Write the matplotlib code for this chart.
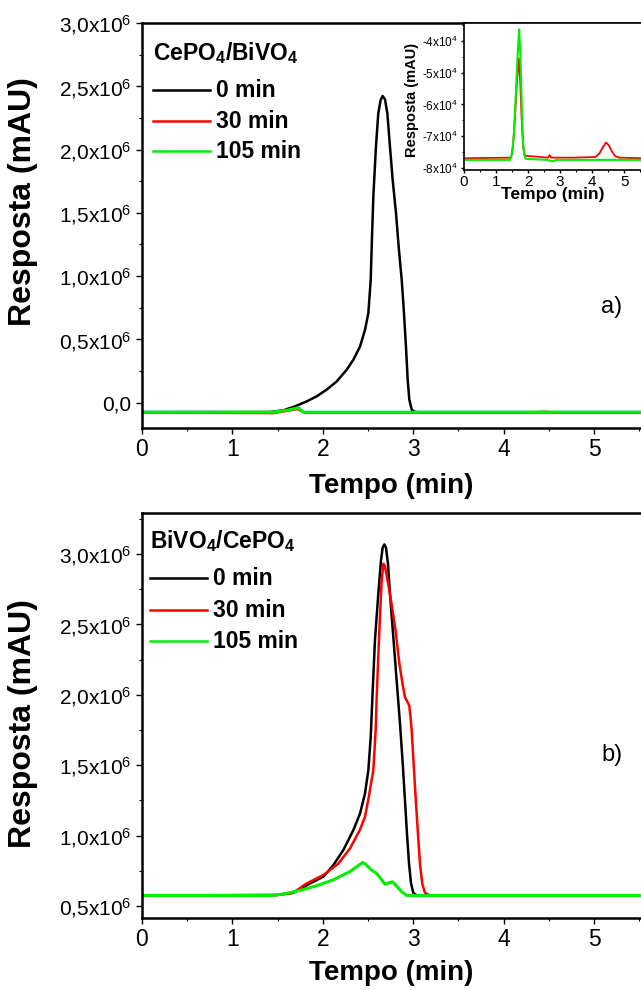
import numpy as np
import matplotlib.pyplot as plt
from matplotlib.ticker import MultipleLocator

plt.rcParams['font.family'] = ['Liberation Sans', 'DejaVu Sans']
plt.rcParams['mathtext.default'] = 'regular'

# --- data (main panels in units of 1e6, inset in units of 1e4) ---
labels = ['0 min', '30 min', '105 min']
colors = ['#000000', '#ff0000', '#00ee00']

# a) CePO4/BiVO4
a_x0 = [0, 1.416, 1.563, 1.674, 1.822, 1.932, 2.043, 2.154, 2.264, 2.338, 2.412, 2.467, 2.504,
        2.530, 2.541, 2.559, 2.588, 2.614, 2.640, 2.662, 2.688, 2.714, 2.743, 2.773, 2.810,
        2.839, 2.873, 2.898, 2.920, 2.939, 2.957, 2.984, 3.020, 3.075, 5.6]
a_y0 = [-0.074, -0.074, -0.060, -0.034, 0.010, 0.050, 0.103, 0.168, 0.260, 0.339, 0.444, 0.576,
        0.708, 0.971, 1.234, 1.628, 2.023, 2.287, 2.392, 2.423, 2.397, 2.287, 2.023, 1.760, 1.497,
        1.234, 0.971, 0.708, 0.444, 0.182, 0.024, -0.055, -0.074, -0.075, -0.075]
a_x30 = [0, 1.45, 1.60, 1.72, 1.80, 4.3, 4.45, 4.6, 5.6]
a_y30 = [-0.078, -0.082, -0.065, -0.05, -0.078, -0.078, -0.072, -0.078, -0.078]
a_x105 = [0, 1.45, 1.60, 1.73, 1.78, 5.6]
a_y105 = [-0.075, -0.075, -0.06, -0.04, -0.075, -0.075]

# inset of a)
i_x30 = [0, 1.47, 1.53, 1.59, 1.65, 1.71, 1.75, 1.80, 1.85, 1.90, 2.62, 2.67, 2.72, 3.4, 4.10,
         4.22, 4.33, 4.43, 4.52, 4.62, 4.72, 4.85, 5.6]
i_y30 = [-7.70, -7.68, -7.3, -6.4, -5.3, -4.55, -5.2, -6.5, -7.4, -7.62, -7.68, -7.6, -7.68, -7.68,
         -7.66, -7.55, -7.35, -7.2, -7.3, -7.5, -7.64, -7.68, -7.70]
i_x105 = [0, 1.43, 1.50, 1.56, 1.62, 1.67, 1.72, 1.76, 1.80, 1.84, 1.88, 1.93, 2.6, 2.75, 2.9, 5.6]
i_y105 = [-7.75, -7.75, -7.55, -6.9, -5.6, -4.5, -3.63, -4.5, -6.0, -7.2, -7.6, -7.72, -7.75,
          -7.8, -7.75, -7.75]

# b) BiVO4/CePO4
b_x0 = [0, 1.49, 1.674, 1.858, 2.006, 2.116, 2.227, 2.338, 2.412, 2.467, 2.504, 2.530, 2.552,
        2.577, 2.614, 2.644, 2.662, 2.681, 2.699, 2.721, 2.743, 2.780, 2.817, 2.854, 2.884,
        2.909, 2.931, 2.954, 2.976, 3.001, 3.038, 3.112, 5.6]
b_y0 = [0.575, 0.578, 0.594, 0.66, 0.708, 0.79, 0.897, 1.039, 1.157, 1.299, 1.465, 1.70, 2.03,
        2.387, 2.718, 2.954, 3.044, 3.067, 3.044, 2.93, 2.718, 2.41, 2.10, 1.796, 1.512,
        1.252, 1.016, 0.80, 0.661, 0.594, 0.576, 0.575, 0.575]
b_x30 = [0, 1.49, 1.674, 1.82, 2.006, 2.17, 2.301, 2.41, 2.467, 2.51, 2.559, 2.585, 2.596, 2.625,
         2.651, 2.67, 2.688, 2.725, 2.762, 2.806, 2.847, 2.884, 2.91, 2.936, 2.957, 2.972,
         2.983, 3.005, 3.027, 3.05, 3.075, 3.10, 3.13, 3.186, 5.6]
b_y30 = [0.575, 0.578, 0.594, 0.66, 0.72, 0.80, 0.909, 1.04, 1.133, 1.28, 1.465, 1.75, 1.98, 2.45,
         2.81, 2.93, 2.913, 2.78, 2.64, 2.45, 2.22, 2.07, 1.98, 1.95, 1.92, 1.83,
         1.75, 1.51, 1.27, 1.04, 0.80, 0.66, 0.594, 0.575, 0.575]
b_x105 = [0, 1.43, 1.563, 1.748, 1.932, 2.116, 2.301, 2.441, 2.467, 2.54, 2.596, 2.64, 2.688,
          2.736, 2.773, 2.817, 2.873, 2.928, 5.6]
b_y105 = [0.575, 0.575, 0.585, 0.611, 0.644, 0.686, 0.745, 0.809, 0.80, 0.755, 0.731, 0.695,
          0.655, 0.665, 0.672, 0.641, 0.601, 0.575, 0.575]

a_yticks = [0, 0.5, 1.0, 1.5, 2.0, 2.5, 3.0]
a_yticklabels = ['0,0', '0,5x10$^6$', '1,0x10$^6$', '1,5x10$^6$', '2,0x10$^6$', '2,5x10$^6$', '3,0x10$^6$']
b_yticks = [0.5, 1.0, 1.5, 2.0, 2.5, 3.0]
b_yticklabels = ['0,5x10$^6$', '1,0x10$^6$', '1,5x10$^6$', '2,0x10$^6$', '2,5x10$^6$', '3,0x10$^6$']
i_yticks = [-8, -7, -6, -5, -4]
i_yticklabels = ['-8x10$^4$', '-7x10$^4$', '-6x10$^4$', '-5x10$^4$', '-4x10$^4$']

W, H = 641, 990
XMAX = 5.52

fig = plt.figure(figsize=(W / 100, H / 100), dpi=100)
ax1 = fig.add_axes([142 / W, 1 - 428 / H, (W - 142) / W, 405 / H])
ax2 = fig.add_axes([142 / W, 1 - 918 / H, (W - 142) / W, 405 / H])
axi = fig.add_axes([464 / W, 1 - 170 / H, (W - 464) / W, 147 / H])


def style(ax, lw, xsize, ysize, major_len, minor_len):
    ax.spines['right'].set_visible(False)
    for s in ['left', 'bottom', 'top']:
        ax.spines[s].set_linewidth(lw)
    ax.tick_params(which='major', direction='out', length=major_len, width=1.0,
                   right=False, top=False)
    ax.tick_params(which='minor', direction='out', length=minor_len, width=0.8,
                   right=False, top=False)
    ax.tick_params(axis='x', labelsize=xsize)
    ax.tick_params(axis='y', labelsize=ysize)
    ax.set_xlim(0, XMAX)
    ax.xaxis.set_major_locator(MultipleLocator(1))
    ax.xaxis.set_minor_locator(MultipleLocator(0.5))


# panel a
for x, y, c, lw in zip([a_x0, a_x30, a_x105], [a_y0, a_y30, a_y105], colors, [1.8, 1.8, 2.2]):
    ax1.plot(np.array(x), np.array(y) * 1e6, color=c, lw=lw)
ax1.set_ylim(-0.2e6, 3.0e6)
ax1.set_yticks(np.array(a_yticks) * 1e6)
ax1.set_yticklabels(a_yticklabels)
ax1.yaxis.set_minor_locator(MultipleLocator(0.25e6))
style(ax1, 1.8, 16.5, 15, 4, 2.5)

# panel b
for x, y, c, lw in zip([b_x0, b_x30, b_x105], [b_y0, b_y30, b_y105], colors, [1.8, 1.8, 2.2]):
    ax2.plot(np.array(x), np.array(y) * 1e6, color=c, lw=lw)
ax2.set_ylim(0.415e6, 3.29e6)
ax2.set_yticks(np.array(b_yticks) * 1e6)
ax2.set_yticklabels(b_yticklabels)
ax2.yaxis.set_minor_locator(MultipleLocator(0.25e6))
style(ax2, 1.8, 16.5, 15, 4, 2.5)

# labels, legends (drawn by hand), panel letters
panels = [(ax1, 'CePO$_4$/BiVO$_4$', 0.56, -0.111, 'a)', 307, 153, [60, 97, 128, 158]),
          (ax2, 'BiVO$_4$/CePO$_4$', 0.48, -0.104, 'b)', 755, 150, [548, 585, 617, 648])]
for ax, title, ycen, xly, txt, ty, lx, rows in panels:
    ax.set_xlabel('Tempo (min)', fontsize=20, fontweight='bold')
    ax.set_ylabel('Resposta (mAU)', fontsize=23, fontweight='bold')
    ax.yaxis.set_label_coords(-0.208, ycen)
    ax.xaxis.set_label_coords(0.5, xly)
    fig.text(lx / W, 1 - rows[0] / H, title, fontsize=16.5, fontweight='bold', va='baseline')
    for lab, c, yb in zip(labels, colors, rows[1:]):
        ym = 1 - (yb - 7) / H
        fig.lines.append(plt.Line2D([lx / W, (lx + 57) / W], [ym, ym], color=c, lw=1.8,
                                    transform=fig.transFigure))
        fig.text((lx + 63) / W, 1 - yb / H, lab, fontsize=16.5, fontweight='bold', va='baseline')
    fig.text(612 / W, 1 - ty / H, txt, fontsize=17, ha='center', va='center')

# inset
axi.plot(np.array(i_x30), np.array(i_y30) * 1e4, color=colors[1], lw=1.3)
axi.plot(np.array(i_x105), np.array(i_y105) * 1e4, color=colors[2], lw=1.5)
axi.set_ylim(-8.07e4, -3.43e4)
axi.set_yticks(np.array(i_yticks) * 1e4)
axi.set_yticklabels(i_yticklabels)
axi.yaxis.set_minor_locator(MultipleLocator(0.5e4))
style(axi, 1.2, 11, 8.5, 2.5, 1.5)
axi.tick_params(axis='x', pad=1)
axi.tick_params(axis='y', pad=1.5)
axi.set_xlabel('Tempo (min)', fontsize=12.5, fontweight='bold')
axi.set_ylabel('Resposta (mAU)', fontsize=10.5, fontweight='bold')
axi.xaxis.set_label_coords(0.5, -0.116)
axi.yaxis.set_label_coords(-0.255, 0.48)

fig.savefig('out.png', dpi=100)
